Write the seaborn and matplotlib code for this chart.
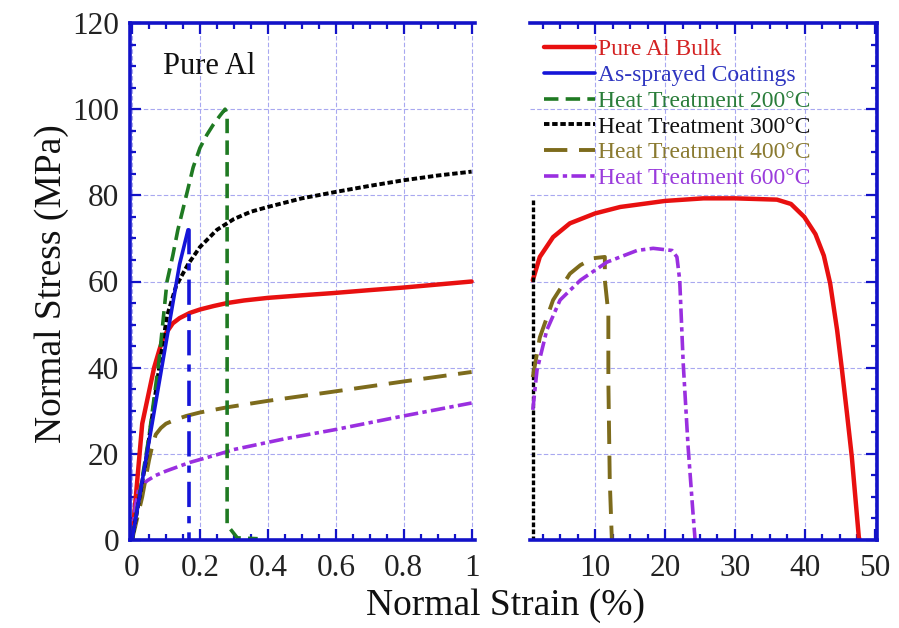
import matplotlib
matplotlib.use("Agg")
import matplotlib.pyplot as plt
from matplotlib.lines import Line2D
from matplotlib.ticker import MultipleLocator, FixedLocator
import seaborn as sns

# ---------------- data ----------------
# left panel: strain 0 - 1 %
bulk_x_l = [0, 0.03, 0.065, 0.08, 0.09, 0.1, 0.12, 0.14, 0.17, 0.2, 0.24, 0.28, 0.33, 0.4,
            0.5, 0.59, 0.7, 0.8, 0.9, 1.0]
bulk_y_l = [0, 27, 40, 44, 46.5, 48, 50.3, 51.5, 52.7, 53.5, 54.3, 55, 55.6, 56.2,
            56.8, 57.3, 58, 58.6, 59.3, 60]

spray_x_l = [0, 0.14, 0.165, 0.167, 0.167]
spray_y_l = [0, 64, 72, 72, 0]

ht200_x_l = [0, 0.05, 0.08, 0.103, 0.12, 0.135, 0.16, 0.18, 0.2, 0.22, 0.24, 0.26, 0.274,
             0.28, 0.28, 0.3, 0.31, 0.37]
ht200_y_l = [0, 24, 42, 60, 66, 72, 80, 86.5, 91, 94, 96.5, 98.6, 100,
             99, 3.5, 1.5, 0.5, 0.3]

ht300_x_l = [0, 0.04, 0.08, 0.103, 0.13, 0.165, 0.2, 0.25, 0.3, 0.35, 0.4, 0.5, 0.6, 0.7,
             0.8, 0.9, 1.0]
ht300_y_l = [0, 18, 40, 52, 59, 64, 68, 72, 74.5, 76.2, 77.3, 79.3, 80.8, 82.2,
             83.5, 84.6, 85.5]

ht400_x_l = [0, 0.03, 0.05, 0.06, 0.07, 0.085, 0.1, 0.13, 0.16, 0.2, 0.28, 0.4, 0.59, 0.8, 1.0]
ht400_y_l = [0, 10, 18.5, 22, 24.5, 26, 27, 28, 28.8, 29.6, 30.8, 32.3, 34.4, 36.8, 39]

ht600_x_l = [0, 0.01, 0.02, 0.045, 0.07, 0.1, 0.17, 0.25, 0.3, 0.45, 0.59, 0.8, 1.0]
ht600_y_l = [0, 8, 12, 13.8, 15, 16, 18, 19.8, 21, 23.5, 25.5, 28.8, 31.8]

# right panel: strain 1 - 50 %
bulk_x_r = [1.1, 2.1, 4, 6.4, 10, 13.6, 20, 25.5, 30, 36, 38, 39.9, 41.5, 42.7, 43.6,
            44.6, 45.3, 46.0, 46.7, 47.7, 47.8]
bulk_y_r = [60.3, 65.7, 70.3, 73.5, 75.8, 77.3, 78.7, 79.3, 79.3, 79, 78, 75, 71, 66, 59.6,
            48.7, 39.4, 29.5, 19.3, 0.7, 0]

ht300_x_r = [1.1, 1.1]
ht300_y_r = [79, 0]

ht400_x_r = [1.1, 2.1, 4, 6.4, 7.9, 9.7, 11.4, 11.4, 11.9, 11.9, 12.1, 12.4]
ht400_y_r = [37.8, 47, 55.7, 61.8, 63.8, 65.4, 65.7, 60.3, 52.6, 37, 13.9, 0]

ht600_x_r = [1.1, 1.7, 3.1, 5, 7.9, 11.7, 16, 18.3, 21, 21.7, 22.1, 22.6, 23.3, 24, 24.3]
ht600_y_r = [30.2, 39.4, 48.7, 55.7, 60.3, 64.5, 67.2, 67.7, 67.2, 65.7, 60.3, 41, 21.6,
             6.2, 0]

labels = ["Pure Al Bulk", "As-sprayed Coatings", "Heat Treatment 200\u00b0C",
          "Heat Treatment 300\u00b0C", "Heat Treatment 400\u00b0C", "Heat Treatment 600\u00b0C"]
left_ticks = [0, 0.2, 0.4, 0.6, 0.8, 1]
left_ticklabels = ["0", "0.2", "0.4", "0.6", "0.8", "1"]
right_ticks = [10, 20, 30, 40, 50]
y_ticks = [0, 20, 40, 60, 80, 100, 120]

# ---------------- style ----------------
sns.set_style("white")
plt.rcParams["font.family"] = ["Liberation Serif", "DejaVu Serif"]

text_cols = ["#d42222", "#2e35c0", "#2a7d3a", "#111111", "#8a7a30", "#9a3cdc"]
spine_col = "#1212c8"
grid_col = "#a8a8f0"

styles = {
    "bulk": dict(color="#e81010", linewidth=3.2, linestyle="-"),
    "spray": dict(color="#1515d8", linewidth=2.6, linestyle="-"),
    "ht200": dict(color="#1f7a22", linewidth=2.6, linestyle=(0, (4, 2))),
    "ht300": dict(color="#000000", linewidth=2.8, linestyle=(0, (1.4, 0.7))),
    "ht400": dict(color="#7d6b1c", linewidth=2.8, linestyle=(0, (6, 3))),
    "ht600": dict(color="#9a2fe0", linewidth=2.6, linestyle=(0, (4, 1.2, 1.2, 1.2))),
}
keys = ["bulk", "spray", "ht200", "ht300", "ht400", "ht600"]

fig = plt.figure(figsize=(8.99, 6.28), dpi=100)
ax_l = fig.add_axes([130 / 899, 88 / 628, 345 / 899, 517 / 628])
ax_r = fig.add_axes([530 / 899, 88 / 628, 347 / 899, 517 / 628])


def draw(ax, x, y, key, **extra):
    kw = dict(styles[key])
    kw.update(extra)
    sns.lineplot(x=x, y=y, sort=False, estimator=None, ax=ax, **kw)


# left panel
draw(ax_l, bulk_x_l, bulk_y_l, "bulk")
draw(ax_l, ht600_x_l, ht600_y_l, "ht600")
draw(ax_l, ht400_x_l, ht400_y_l, "ht400")
draw(ax_l, ht300_x_l, ht300_y_l, "ht300")
draw(ax_l, ht200_x_l, ht200_y_l, "ht200")
draw(ax_l, spray_x_l[:3], spray_y_l[:3], "spray")
draw(ax_l, spray_x_l[2:], spray_y_l[2:], "spray", linestyle=(0, (7, 2.5, 2, 2.5)))

# right panel
draw(ax_r, bulk_x_r, bulk_y_r, "bulk")
draw(ax_r, ht300_x_r, ht300_y_r, "ht300", linewidth=2.4)
draw(ax_r, ht400_x_r, ht400_y_r, "ht400")
draw(ax_r, ht600_x_r, ht600_y_r, "ht600")

for ax in (ax_l, ax_r):
    ax.set_ylim(0, 120)
    ax.set_xlabel("")
    ax.set_ylabel("")
    ax.yaxis.set_major_locator(FixedLocator(y_ticks))
    ax.yaxis.set_minor_locator(MultipleLocator(5))
    ax.grid(True, which="major", color=grid_col, linestyle=(0, (4, 2)), linewidth=0.8)
    ax.set_axisbelow(True)
    ax.tick_params(which="both", direction="in", color=spine_col, width=1.6,
                   labelsize=22.5, labelcolor="#222222")
    ax.tick_params(which="major", length=8)
    ax.tick_params(which="minor", length=4)

ax_l.set_xlim(-0.006, 1.01)
ax_l.xaxis.set_major_locator(FixedLocator(left_ticks))
ax_l.set_xticklabels(left_ticklabels)
ax_l.xaxis.set_minor_locator(MultipleLocator(0.05))
ax_l.tick_params(which="both", left=True, top=True, bottom=True, right=False)
ax_l.tick_params(axis="y", pad=8)
ax_l.tick_params(axis="x", pad=10)
for side in ("left", "top", "bottom"):
    ax_l.spines[side].set_color(spine_col)
    ax_l.spines[side].set_linewidth(2.6)
ax_l.spines["right"].set_visible(False)
ax_l.set_yticklabels([str(v) for v in y_ticks])

ax_r.set_xlim(0.7, 50.3)
ax_r.xaxis.set_major_locator(FixedLocator(right_ticks))
ax_r.xaxis.set_minor_locator(MultipleLocator(2.5))
ax_r.tick_params(which="both", left=False, right=True, top=True, bottom=True,
                 labelleft=False, labelright=False)
ax_r.tick_params(axis="x", pad=10)
for side in ("right", "top", "bottom"):
    ax_r.spines[side].set_color(spine_col)
    ax_r.spines[side].set_linewidth(2.6)
ax_r.spines["left"].set_visible(False)

ax_l.text(0.09, 110, "Pure Al", fontsize=22, color="#111111", va="center", ha="left")

handles = [Line2D([], [], **styles[k]) for k in keys]
leg = ax_r.legend(handles, labels, loc="upper left", bbox_to_anchor=(0.0, 0.997),
                  fontsize=17, frameon=False, handlelength=2.15, handletextpad=0.15,
                  labelspacing=0.18, borderaxespad=0.2)
for txt, col in zip(leg.get_texts(), text_cols):
    txt.set_color(col)

fig.text(505 / 899, 1 - 606 / 628, "Normal Strain (%)", fontsize=27,
         ha="center", va="center", color="#111111")
fig.text(52 / 899, 1 - 284 / 628, "Normal Stress (MPa)", fontsize=27,
         ha="center", va="center", rotation=90, color="#111111")

fig.savefig("out.png", dpi=100)
